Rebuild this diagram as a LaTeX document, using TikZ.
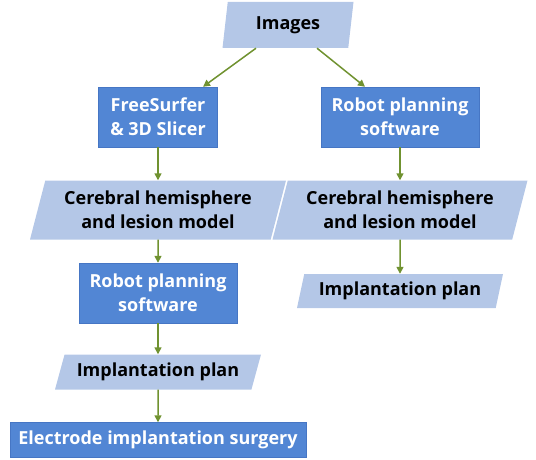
\documentclass[tikz,border=0pt]{standalone}
\usepackage{fontspec}
\setmainfont{Open Sans}
\usetikzlibrary{shapes.geometric,arrows.meta}
\definecolor{boxblue}{RGB}{82,134,212}
\definecolor{boxedge}{RGB}{70,118,196}
\definecolor{datablue}{RGB}{180,199,231}
\definecolor{arrowgreen}{RGB}{112,146,48}
\tikzset{
  process/.style={draw=boxedge,fill=boxblue,text=white,font=\fontsize{18}{24}\selectfont\bfseries,
    align=center,inner sep=0pt},
  data/.style={trapezium,trapezium left angle=68,trapezium right angle=112,trapezium stretches body,
    fill=datablue,text=black,font=\fontsize{18}{24}\selectfont\bfseries,align=center,inner sep=0pt},
  flow/.style={draw=arrowgreen,line width=1.5pt,-{Triangle[length=7pt,width=7pt]}}
}
\begin{document}
\begin{tikzpicture}[x=1pt,y=-1pt]
  \useasboundingbox (0,0) rectangle (536,460);
  \def\lx{158}
  \def\rx{400}
  % left column
  \node[data,trapezium left angle=73,trapezium right angle=107,minimum width=131pt,minimum height=46pt] (images) at (288,25) {Images};
  \node[process,minimum width=119pt,minimum height=60pt] (freesurfer) at (\lx,117) {FreeSurfer\\\&~3D Slicer};
  \node[data,minimum width=256pt,minimum height=59pt] (modelL) at (\lx,210) {Cerebral hemisphere\\and lesion model};
  \node[process,minimum width=158pt,minimum height=60pt] (robotL) at (\lx,293) {Robot planning\\software};
  \node[data,trapezium left angle=62,trapezium right angle=118,minimum width=206pt,minimum height=35pt] (planL) at (\lx,372) {Implantation plan};
  \node[process,minimum width=296pt,minimum height=35pt] (surgery) at (\lx,440) {Electrode implantation surgery};
  % right column
  \node[process,minimum width=158pt,minimum height=60pt] (robotR) at (\rx,117) {Robot planning\\software};
  \node[data,minimum width=255pt,minimum height=59pt] (modelR) at (\rx,210) {Cerebral hemisphere\\and lesion model};
  \node[data,minimum width=206pt,minimum height=34pt] (planR) at (\rx,291) {Implantation plan};
  % connectors
  \draw[flow] ([xshift=-32pt]images.south) -- ([xshift=45pt]freesurfer.north);
  \draw[flow] ([xshift=29pt]images.south) -- ([xshift=-35pt]robotR.north);
  \draw[flow] (freesurfer) -- (modelL);
  \draw[flow] (modelL) -- (robotL);
  \draw[flow] (robotL) -- (planL);
  \draw[flow] (planL) -- (surgery);
  \draw[flow] (robotR) -- (modelR);
  \draw[flow] (modelR) -- (planR);
\end{tikzpicture}
\end{document}
